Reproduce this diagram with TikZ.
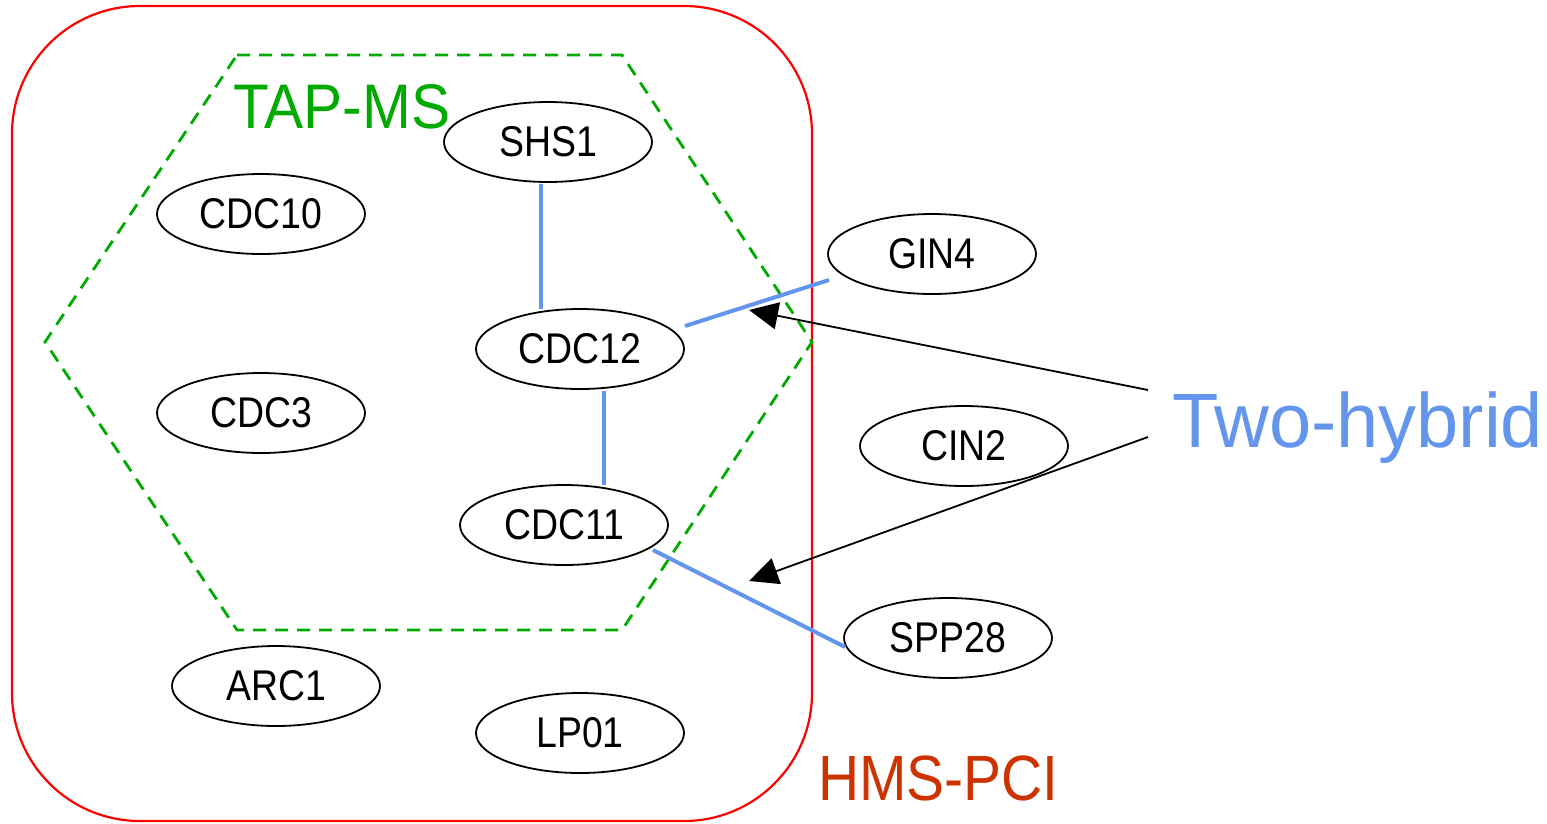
\documentclass[tikz,border=0pt]{standalone}
\usepackage{fontspec}
\setmainfont{Liberation Sans}
\usepackage{graphicx}
\usetikzlibrary{shapes.geometric,arrows.meta}
\definecolor{hmsred}{RGB}{255,0,0}
\definecolor{tapgreen}{RGB}{0,170,0}
\definecolor{yhblue}{RGB}{100,149,237}
\definecolor{pcirust}{RGB}{204,51,0}
% horizontally squeezed text
\newcommand{\hsq}[2]{\scalebox{#1}[1]{#2}}
\begin{document}
\begin{tikzpicture}[x=1pt,y=-1pt,
  protein/.style={ellipse,draw=black,line width=1.8pt,minimum width=208pt,
    minimum height=80pt,inner sep=0pt,font=\fontsize{43}{43}\selectfont},
  interaction/.style={draw=yhblue,line width=4pt},
  pointer/.style={draw=black,line width=1.8pt,-{Triangle[length=29pt,width=27pt]}},
  setlabel/.style={inner sep=0pt,anchor=base west}
]
\useasboundingbox (0,0) rectangle (1547,823);

% HMS-PCI set
\draw[hmsred,line width=2.2pt,rounded corners=128pt] (12,6) rectangle (812,821);
% TAP-MS set
\draw[tapgreen,line width=2.8pt,dash pattern=on 13pt off 9pt]
  (237,55) -- (622,55) -- (812,342) -- (622,630) -- (237,630) -- (45,342) -- cycle;

% set labels
\node[setlabel,text=tapgreen,font=\fontsize{63}{63}\selectfont] (tap) at (233,128) {\hsq{0.93}{TAP-MS}};
\node[setlabel,text=pcirust,font=\fontsize{64}{64}\selectfont] (hms) at (818,800) {\hsq{0.89}{HMS-PCI}};
\node[setlabel,text=yhblue,font=\fontsize{77}{77}\selectfont] (twohybrid) at (1172,447) {\hsq{0.985}{Two-hybrid}};

% proteins
\node[protein] (SHS1)  at (548,142) {\hsq{0.87}{SHS1}};
\node[protein] (CDC10) at (261,214) {\hsq{0.87}{CDC10}};
\node[protein] (CDC12) at (580,349) {\hsq{0.87}{CDC12}};
\node[protein] (CDC3)  at (261,413) {\hsq{0.87}{CDC3}};
\node[protein] (CDC11) at (564,525) {\hsq{0.87}{CDC11}};
\node[protein] (ARC1)  at (276,686) {\hsq{0.87}{ARC1}};
\node[protein] (LP01)  at (580,733) {\hsq{0.87}{LP01}};
\node[protein] (GIN4)  at (932,254) {\hsq{0.87}{GIN4}};
\node[protein] (CIN2)  at (964,446) {\hsq{0.87}{CIN2}};
\node[protein] (SPP28) at (948,638) {\hsq{0.87}{SPP28}};

% two-hybrid interactions
\draw[interaction] ([xshift=-7pt,yshift=-1pt]SHS1.south) -- ([xshift=-39pt,yshift=-1pt]CDC12.north);
\draw[interaction] ([xshift=24pt,yshift=-1pt]CDC12.south) -- ([xshift=40pt,yshift=-1pt]CDC11.north);
\draw[interaction] ([shift={(105,-23)}]CDC12.center) -- ([shift={(-103,26)}]GIN4.center);
\draw[interaction] ([shift={(89,25)}]CDC11.center) -- ([shift={(-103,9)}]SPP28.center);

% pointers from the Two-hybrid label
\coordinate (from1) at (1148,390);
\coordinate (tip1)  at (749,310);
\coordinate (from2) at (1148,437);
\coordinate (tip2)  at (749,581);
\draw[pointer] (from1) -- (tip1);
\draw[pointer] (from2) -- (tip2);
\end{tikzpicture}
\end{document}
